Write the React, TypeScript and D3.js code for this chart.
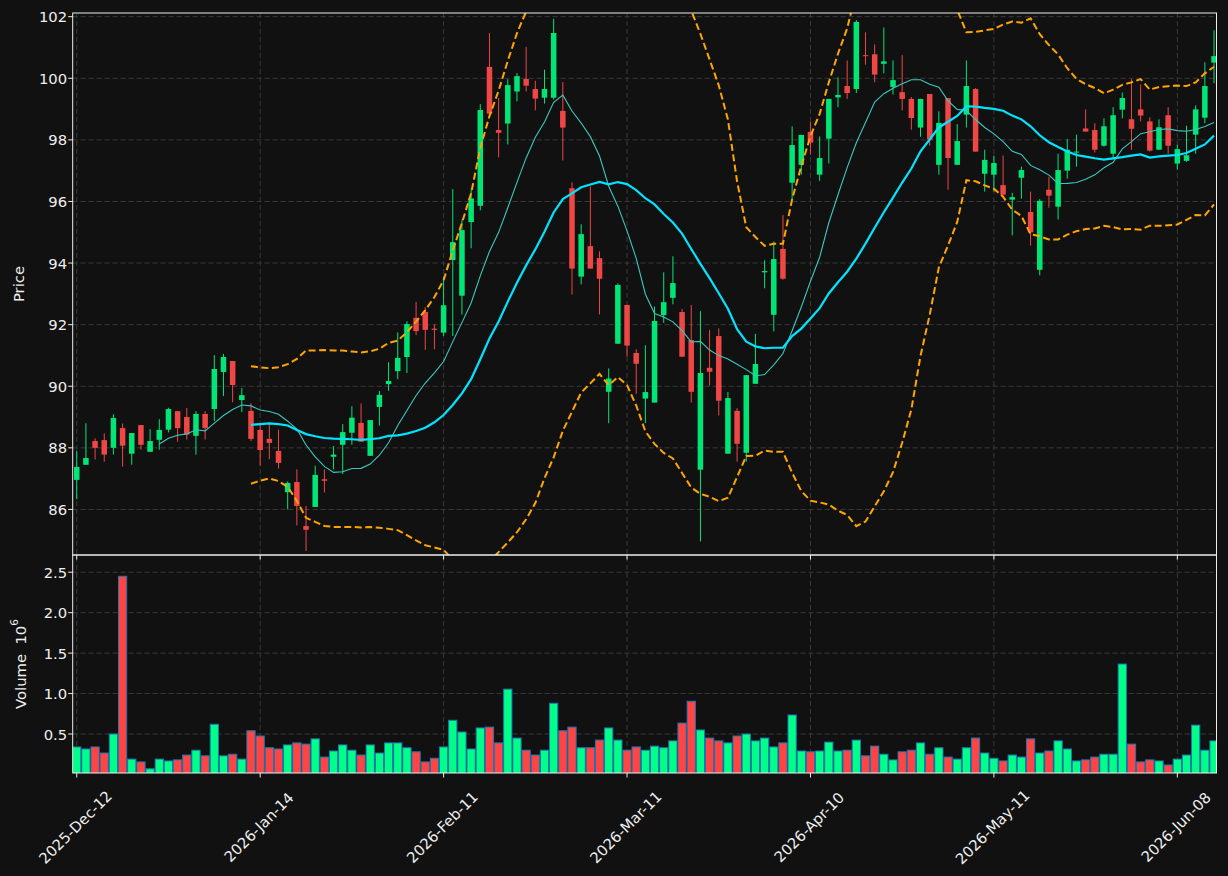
import * as d3 from "d3";

// OHLC, one entry per trading session
const opens = [
  86.96, 87.45, 88.22, 88.25, 88.0, 88.64, 87.81, 88.74, 87.87, 88.26,
  88.59, 89.19, 89.0, 88.39, 89.1, 89.26, 90.46, 90.82, 89.55, 89.2,
  88.58, 88.29, 87.9, 86.56, 86.89, 85.46, 86.08, 86.98, 87.71, 88.1,
  88.49, 88.81, 87.74, 89.33, 90.07, 90.49, 90.95, 92.22, 92.41, 91.87,
  91.74, 94.1, 92.94, 95.33, 95.86, 100.37, 98.32, 98.53, 99.57, 99.98,
  99.65, 99.37, 99.37, 98.94, 96.43, 93.56, 94.55, 94.16, 89.82, 91.38,
  92.64, 91.08, 89.6, 89.47, 92.31, 92.87, 92.41, 91.5, 87.29, 90.6,
  91.63, 87.81, 89.2, 87.84, 90.08, 93.7, 92.32, 94.46, 96.61, 97.19,
  98.26, 96.87, 98.04, 99.38, 99.75, 99.65, 100.75, 100.78, 100.47, 99.72,
  99.55, 99.33, 98.4, 99.49, 97.19, 99.36, 97.19, 98.82, 99.65, 96.9,
  96.87, 96.53, 96.06, 96.77, 95.66, 93.78, 96.38, 95.83, 97.0, 97.6,
  98.37, 98.32, 97.81, 97.55, 98.98, 98.67, 98.99, 98.6, 97.68, 98.8,
  97.23, 97.32, 98.17, 98.72, 100.51,
];
const highs = [
  87.9, 88.8, 88.31, 88.47, 89.09, 88.79, 88.48, 88.74, 88.61, 88.93,
  89.3, 89.19, 89.29, 89.19, 89.19, 91.01, 91.05, 90.82, 89.94, 89.45,
  88.74, 88.77, 88.59, 86.91, 87.3, 86.11, 87.42, 87.3, 88.06, 88.77,
  89.35, 89.44, 88.9, 89.85, 90.78, 91.75, 92.11, 92.74, 92.57, 92.01,
  93.56, 96.4, 95.41, 96.38, 99.16, 101.47, 99.36, 99.97, 100.17, 101.02,
  99.92, 100.28, 101.93, 99.88, 96.62, 95.26, 96.49, 94.38, 90.58, 93.34,
  92.64, 91.2, 91.33, 92.59, 93.7, 94.22, 92.51, 92.64, 92.44, 91.83,
  91.88, 89.81, 89.29, 90.36, 91.7, 94.09, 94.7, 95.56, 98.44, 98.16,
  98.58, 98.11, 99.33, 100.03, 100.58, 101.89, 101.49, 101.1, 101.65, 100.58,
  100.75, 99.39, 99.33, 99.49, 98.93, 99.36, 98.51, 100.58, 99.68, 97.68,
  97.49, 97.49, 96.28, 97.13, 96.32, 96.08, 96.8, 97.55, 98.02, 98.17,
  98.99, 98.54, 98.7, 99.06, 99.54, 99.97, 99.8, 98.73, 98.67, 99.06,
  97.84, 98.46, 99.12, 100.52, 101.56,
];
const lows = [
  86.33, 87.45, 87.62, 87.55, 87.78, 87.39, 87.45, 87.94, 87.87, 87.94,
  88.5, 88.2, 88.27, 87.78, 88.27, 88.87, 89.68, 89.48, 89.16, 88.22,
  87.42, 87.63, 87.33, 86.0, 85.48, 84.65, 86.08, 86.55, 87.3, 87.15,
  88.1, 88.2, 87.74, 88.72, 89.85, 90.23, 90.43, 91.66, 91.18, 91.2,
  91.63, 91.63, 92.33, 94.48, 95.71, 98.85, 97.43, 97.85, 99.25, 99.57,
  98.96, 99.18, 99.31, 97.33, 92.98, 93.31, 93.82, 92.33, 88.8, 91.38,
  90.96, 89.75, 88.8, 89.47, 92.06, 92.66, 90.96, 89.47, 84.96, 90.02,
  89.05, 87.81, 87.55, 87.55, 90.08, 93.18, 91.78, 93.46, 96.06, 96.87,
  97.52, 96.67, 97.23, 99.06, 99.33, 99.52, 100.44, 99.87, 100.16, 99.47,
  98.96, 98.33, 98.1, 97.81, 96.87, 96.38, 97.19, 98.4, 97.62, 96.32,
  96.32, 96.22, 94.9, 96.09, 94.57, 93.6, 95.8, 95.41, 96.74, 97.13,
  98.27, 97.59, 97.78, 97.36, 98.7, 97.68, 98.6, 97.62, 97.68, 97.55,
  97.03, 97.29, 97.55, 98.54, 99.84,
];
const closes = [
  87.38, 87.67, 88.0, 87.78, 88.97, 88.07, 88.48, 88.1, 88.22, 88.58,
  89.26, 88.64, 88.43, 89.1, 88.64, 90.56, 90.95, 90.04, 89.71, 88.29,
  87.93, 88.16, 87.51, 86.86, 86.11, 85.34, 87.12, 86.93, 87.78, 88.51,
  88.98, 88.2, 88.9, 89.72, 90.17, 90.92, 92.02, 91.79, 91.83, 91.83,
  92.63, 94.68, 95.07, 96.1, 98.97, 98.85, 98.23, 99.78, 100.07, 99.76,
  99.34, 99.65, 101.47, 98.4, 93.82, 94.94, 93.82, 93.49, 90.25, 93.29,
  91.32, 90.73, 89.81, 92.12, 92.73, 93.35, 90.96, 89.82, 90.43, 90.47,
  89.53, 89.62, 88.13, 90.36, 90.72, 93.74, 94.13, 93.49, 97.83, 98.16,
  97.91, 97.41, 99.33, 99.46, 99.52, 101.83, 100.72, 100.12, 100.55, 99.94,
  99.33, 98.71, 99.33, 98.01, 98.55, 97.41, 97.96, 99.75, 97.62, 97.35,
  97.25, 96.22, 96.14, 97.02, 95.0, 96.02, 96.19, 97.02, 97.68, 97.62,
  98.27, 97.68, 98.44, 98.8, 99.36, 98.36, 98.79, 97.65, 98.41, 97.81,
  97.7, 97.5, 98.99, 99.75, 100.72,
];
// volume in millions (axis shows x10^6)
const volumes = [
  0.34, 0.315, 0.34, 0.265, 0.5, 2.45, 0.19, 0.155, 0.07, 0.19,
  0.167, 0.18, 0.24, 0.3, 0.23, 0.62, 0.23, 0.25, 0.19, 0.54,
  0.475, 0.33, 0.315, 0.365, 0.39, 0.375, 0.44, 0.215, 0.29, 0.365,
  0.3, 0.24, 0.365, 0.265, 0.39, 0.39, 0.33, 0.28, 0.155, 0.2,
  0.34, 0.67, 0.525, 0.315, 0.575, 0.585, 0.39, 1.055, 0.45, 0.3,
  0.24, 0.3, 0.88, 0.54, 0.585, 0.33, 0.33, 0.425, 0.575, 0.425,
  0.3, 0.34, 0.3, 0.35, 0.33, 0.415, 0.635, 0.905, 0.55, 0.45,
  0.415, 0.39, 0.475, 0.5, 0.415, 0.45, 0.34, 0.39, 0.735, 0.29,
  0.28, 0.29, 0.4, 0.29, 0.3, 0.425, 0.23, 0.35, 0.25, 0.18,
  0.28, 0.3, 0.39, 0.25, 0.33, 0.215, 0.19, 0.33, 0.45, 0.265,
  0.2, 0.167, 0.24, 0.215, 0.44, 0.265, 0.29, 0.415, 0.315, 0.167,
  0.18, 0.215, 0.25, 0.25, 1.365, 0.375, 0.155, 0.18, 0.167, 0.117,
  0.19, 0.24, 0.61, 0.3, 0.415,
];

const tickIdx = [0, 20, 40, 60, 80, 100, 120];
const tickLabels = [
  "2025-Dec-12",
  "2026-Jan-14",
  "2026-Feb-11",
  "2026-Mar-11",
  "2026-Apr-10",
  "2026-May-11",
  "2026-Jun-08",
];
const priceTicks = [86, 88, 90, 92, 94, 96, 98, 100, 102];
const volTicks = [0.5, 1.0, 1.5, 2.0, 2.5];

const W = 1228;
const H = 876;
const left = 72.7;
const right = 1216.5;
const priceTop = 13;
const priceBottom = 555;
const volBottom = 773;

const bg = "#111111";
const fg = "#eeeeee";
const gridColor = "#3a3a3a";
const upColor = "#00e676";
const downColor = "#ef4646";
const font = "DejaVu Sans, sans-serif";
const fs = 14.8;

function sma(vals: number[], n: number) {
  return vals.map((_, i) =>
    i < n - 1 ? null : (d3.mean(vals.slice(i - n + 1, i + 1)) as number)
  );
}

function band(vals: number[], n: number, k: number, sign: number) {
  return vals.map((_, i) => {
    if (i < n - 1) return null;
    const w = vals.slice(i - n + 1, i + 1);
    return (d3.mean(w) as number) + sign * k * (d3.deviation(w) as number);
  });
}

export default function App() {
  const n = closes.length;
  const x = d3.scaleLinear().domain([-0.44, 124.27]).range([left, right]);
  const y = d3.scaleLinear().domain([84.52, 102.12]).range([priceBottom, priceTop]);
  const yv = d3.scaleLinear().domain([0.018, 2.713]).range([volBottom, priceBottom]);
  const step = x(1) - x(0);
  const bodyW = step * 0.6;
  const barW = step * 0.9;

  const line = d3
    .line<number | null>()
    .defined((d) => d != null)
    .x((_, i) => x(i))
    .y((d) => y(d as number));

  const mav10 = sma(closes, 10);
  const mav20 = sma(closes, 20);
  const upper = band(closes, 20, 2, 1);
  const lower = band(closes, 20, 2, -1);

  const idx = d3.range(n);

  return (
    <svg
      width={W}
      height={H}
      style={{ position: "absolute", left: 0, top: 0, background: bg }}
      fontFamily={font}
    >
      <rect width={W} height={H} fill={bg} />
      <defs>
        <clipPath id="pclip">
          <rect x={left} y={priceTop} width={right - left} height={priceBottom - priceTop} />
        </clipPath>
        <clipPath id="vclip">
          <rect x={left} y={priceBottom} width={right - left} height={volBottom - priceBottom} />
        </clipPath>
      </defs>

      {/* grid */}
      <g stroke={gridColor} strokeDasharray="5,3" strokeWidth={1}>
        {tickIdx.map((t) => (
          <line key={"gx" + t} x1={x(t)} x2={x(t)} y1={priceTop} y2={volBottom} />
        ))}
        {priceTicks.map((p) => (
          <line key={"gp" + p} x1={left} x2={right} y1={y(p)} y2={y(p)} />
        ))}
        {volTicks.map((v) => (
          <line key={"gv" + v} x1={left} x2={right} y1={yv(v)} y2={yv(v)} />
        ))}
      </g>

      {/* candles */}
      <g clipPath="url(#pclip)">
        {idx.map((i) => {
          const up = closes[i] >= opens[i];
          const c = up ? upColor : downColor;
          const top = y(Math.max(opens[i], closes[i]));
          const bot = y(Math.min(opens[i], closes[i]));
          return (
            <g key={i}>
              <line x1={x(i)} x2={x(i)} y1={y(highs[i])} y2={y(lows[i])} stroke={c} strokeWidth={1} />
              <rect x={x(i) - bodyW / 2} y={top} width={bodyW} height={Math.max(bot - top, 1)} fill={c} />
            </g>
          );
        })}
        <path d={line(mav10) ?? ""} fill="none" stroke="#3cc8c0" strokeWidth={1.1} />
        <path d={line(mav20) ?? ""} fill="none" stroke="#00e5ff" strokeWidth={2.2} />
        <path d={line(upper) ?? ""} fill="none" stroke="#ffa500" strokeWidth={2} strokeDasharray="7,3.5" />
        <path d={line(lower) ?? ""} fill="none" stroke="#ffa500" strokeWidth={2} strokeDasharray="7,3.5" />
      </g>

      {/* volume */}
      <g clipPath="url(#vclip)">
        {idx.map((i) => {
          const up = closes[i] >= opens[i];
          return (
            <rect
              key={"v" + i}
              x={x(i) - barW / 2}
              y={yv(volumes[i])}
              width={barW}
              height={yv(0.018) - yv(volumes[i]) + 2}
              fill={up ? "#00ff88" : "#ff4444"}
              stroke="#1f77b4"
              strokeWidth={1}
            />
          );
        })}
      </g>

      {/* frames */}
      <g fill="none" stroke={fg} strokeWidth={1}>
        <rect x={left} y={priceTop} width={right - left} height={priceBottom - priceTop} />
        <rect x={left} y={priceBottom} width={right - left} height={volBottom - priceBottom} />
      </g>

      {/* y ticks */}
      <g fill={fg} fontSize={fs} textAnchor="end">
        {priceTicks.map((p) => (
          <g key={"tp" + p}>
            <line x1={left - 4.5} x2={left} y1={y(p)} y2={y(p)} stroke={fg} />
            <text x={left - 5.5} y={y(p)} dominantBaseline="central">
              {p}
            </text>
          </g>
        ))}
        {volTicks.map((v) => (
          <g key={"tv" + v}>
            <line x1={left - 4.5} x2={left} y1={yv(v)} y2={yv(v)} stroke={fg} />
            <text x={left - 5.5} y={yv(v)} dominantBaseline="central">
              {v.toFixed(1)}
            </text>
          </g>
        ))}
      </g>

      {/* x ticks */}
      <g fill={fg} fontSize={fs}>
        {tickIdx.map((t, k) => (
          <g key={"tx" + t}>
            <line x1={x(t)} x2={x(t)} y1={volBottom} y2={volBottom + 4.5} stroke={fg} />
            <line x1={x(t)} x2={x(t)} y1={priceBottom} y2={priceBottom + 4.5} stroke={fg} />
            <text
              x={x(t) - 1.5}
              y={827}
              textAnchor="middle"
              dominantBaseline="central"
              transform={`rotate(-45, ${x(t) - 1.5}, 827)`}
            >
              {tickLabels[k]}
            </text>
          </g>
        ))}
      </g>

      {/* axis labels */}
      <text
        x={18}
        y={(priceTop + priceBottom) / 2}
        fill={fg}
        fontSize={fs}
        textAnchor="middle"
        dominantBaseline="central"
        transform={`rotate(-90, 18, ${(priceTop + priceBottom) / 2})`}
      >
        Price
      </text>
      <text
        x={20}
        y={(priceBottom + volBottom) / 2}
        fill={fg}
        fontSize={fs}
        textAnchor="middle"
        dominantBaseline="central"
        transform={`rotate(-90, 20, ${(priceBottom + volBottom) / 2})`}
      >
        {"Volume\u00a0\u00a010"}
        <tspan fontSize={10.5} dy={-6}>
          6
        </tspan>
      </text>
    </svg>
  );
}
